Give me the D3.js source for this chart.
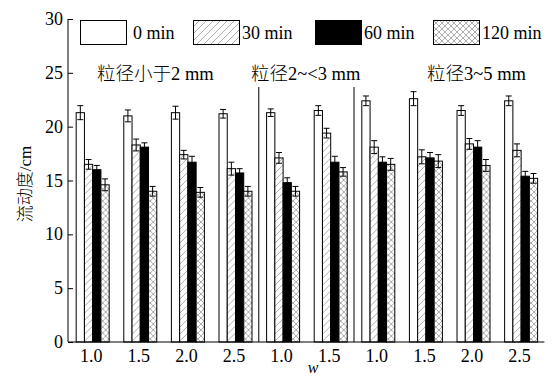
<!DOCTYPE html>
<html>
<head>
<meta charset="utf-8">
<script src="https://cdn.jsdelivr.net/npm/d3@7"></script>
<style>
  body { margin: 0; background: #fff; }
  text { font-family: "Liberation Serif", "Noto Sans CJK SC", serif; fill: #000; }
</style>
</head>
<body>
<svg id="chart" width="556" height="378"></svg>
<script>
// w values for each group (x tick labels)
var wLabels = ["1.0", "1.5", "2.0", "2.5", "1.0", "1.5", "1.0", "1.5", "2.0", "2.5"]
var seriesNames = ["0 min", "30 min", "60 min", "120 min"]

// flow values (cm) per series, one per group
var v0   = [21.3, 21.0, 21.3, 21.2, 21.3, 21.5, 22.4, 22.6, 21.5, 22.4]
var v30  = [16.5, 18.3, 17.4, 16.1, 17.1, 19.4, 18.1, 17.2, 18.4, 17.8]
var v60  = [16.0, 18.1, 16.7, 15.7, 14.8, 16.7, 16.7, 17.1, 18.1, 15.4]
var v120 = [14.6, 14.0, 13.9, 14.0, 14.0, 15.8, 16.5, 16.8, 16.4, 15.2]

// error (+/-)
var e0   = [0.65, 0.55, 0.6, 0.4, 0.35, 0.45, 0.45, 0.65, 0.45, 0.45]
var e30  = [0.45, 0.55, 0.4, 0.6, 0.5, 0.45, 0.6, 0.65, 0.5, 0.6]
var e60  = [0.4, 0.4, 0.55, 0.4, 0.45, 0.55, 0.5, 0.5, 0.6, 0.45]
var e120 = [0.55, 0.45, 0.45, 0.45, 0.45, 0.4, 0.55, 0.6, 0.55, 0.45]

var yTicks = [0, 5, 10, 15, 20, 25, 30]
var sections = ["粒径小于2 mm", "粒径2~<3 mm", "粒径3~5 mm"]

var values = [v0, v30, v60, v120]
var errors = [e0, e30, e60, e120]
var fills = ["#fff", "url(#hatch)", "#000", "url(#cross)"]

var svg = d3.select("#chart")

// patterns
var defs = svg.append("defs")
var hatch = defs.append("pattern")
  .attr("id", "hatch")
  .attr("patternUnits", "userSpaceOnUse")
  .attr("width", 7).attr("height", 7)
hatch.append("rect").attr("width", 7).attr("height", 7).attr("fill", "#fff")
hatch.append("path")
  .attr("d", "M-1,8 L8,-1 M-1,1 L1,-1 M6,8 L8,6")
  .attr("stroke", "#8a8a8a").attr("stroke-width", 0.7)

var cross = defs.append("pattern")
  .attr("id", "cross")
  .attr("patternUnits", "userSpaceOnUse")
  .attr("width", 6).attr("height", 6)
cross.append("rect").attr("width", 6).attr("height", 6).attr("fill", "#fff")
cross.append("path")
  .attr("d", "M0,0 L6,6 M6,0 L0,6")
  .attr("stroke", "#8a8a8a").attr("stroke-width", 0.7)

// scales
var x = d3.scaleBand()
  .domain(d3.range(wLabels.length))
  .range([68.4, 544.4])
  .paddingInner(0.307)
  .paddingOuter(0.153)

var xs = d3.scaleBand()
  .domain(d3.range(seriesNames.length))
  .range([0, x.bandwidth()])

var y = d3.scaleLinear()
  .domain([0, 30])
  .range([342, 19])

var axisX = 68

// y axis (ticks pointing inward)
var yAxis = svg.append("g")
  .attr("transform", "translate(" + axisX + ",0)")
  .call(d3.axisRight(y).tickValues(yTicks).tickSize(5).tickFormat(""))
yAxis.select(".domain").attr("d", "M0," + y(30) + "V" + y(0)).attr("stroke", "#000")
yAxis.selectAll(".tick line").attr("stroke", "#000")

svg.append("g").selectAll("text")
  .data(yTicks)
  .enter()
  .append("text")
  .attr("x", axisX - 5)
  .attr("y", d => y(d) + 6)
  .attr("text-anchor", "end")
  .style("font-size", "18px")
  .text(d => d)

// bars
var groups = svg.append("g").selectAll("g")
  .data(wLabels)
  .enter()
  .append("g")
  .attr("transform", (d, i) => "translate(" + x(i) + ",0)")

groups.each(function(d, gi) {
  var g = d3.select(this)
  seriesNames.forEach(function(s, si) {
    var val = values[si][gi]
    var err = errors[si][gi]
    var bx = xs(si)
    var bw = xs.bandwidth()
    g.append("rect")
      .attr("x", bx + 0.5)
      .attr("y", y(val))
      .attr("width", bw)
      .attr("height", y(0) - y(val))
      .attr("fill", fills[si])
      .attr("stroke", "#000")
      .attr("stroke-width", 1)

    var cx = bx + 0.5 + bw / 2
    var cw = 3
    g.append("path")
      .attr("d", "M" + cx + "," + y(val + err) + "V" + y(val - err)
        + "M" + (cx - cw) + "," + y(val + err) + "H" + (cx + cw)
        + "M" + (cx - cw) + "," + y(val - err) + "H" + (cx + cw))
      .attr("stroke", "#000")
      .attr("stroke-width", 1)
      .attr("fill", "none")
  })
})

// x axis line
svg.append("line")
  .attr("x1", axisX).attr("x2", x.range()[1])
  .attr("y1", y(0)).attr("y2", y(0))
  .attr("stroke", "#000").attr("stroke-width", 1.2)

svg.append("g").selectAll("text")
  .data(wLabels)
  .enter()
  .append("text")
  .attr("x", (d, i) => x(i) + x.bandwidth() / 2 - 1)
  .attr("y", 362)
  .attr("text-anchor", "middle")
  .style("font-size", "18px")
  .text(d => d)

svg.append("text")
  .attr("x", 313)
  .attr("y", 373)
  .attr("text-anchor", "middle")
  .style("font-size", "16px")
  .style("font-style", "italic")
  .text("w")

// y title
svg.append("text")
  .attr("transform", "translate(31,184)rotate(-90)")
  .attr("text-anchor", "middle")
  .style("font-size", "17px")
  .style("font-weight", "300")
  .text("流动度/cm")

// section separators (between groups 4|5 and 6|7)
var sepAfter = [3, 5]
svg.append("g").selectAll("line")
  .data(sepAfter)
  .enter()
  .append("line")
  .attr("x1", d => (x(d) + x.bandwidth() + x(d + 1)) / 2)
  .attr("x2", d => (x(d) + x.bandwidth() + x(d + 1)) / 2)
  .attr("y1", 87)
  .attr("y2", y(0))
  .attr("stroke", "#000").attr("stroke-width", 1)

// section titles
var secX = [97, 251, 427]
svg.append("g").selectAll("text")
  .data(sections)
  .enter()
  .append("text")
  .attr("x", (d, i) => secX[i])
  .attr("y", 80)
  .style("font-size", "18.5px")
  .style("font-weight", "300")
  .text(d => d)

// legend
var legX = [80, 193, 315, 433]
var leg = svg.append("g").selectAll("g")
  .data(seriesNames)
  .enter()
  .append("g")
  .attr("transform", (d, i) => "translate(" + legX[i] + ",20)")
leg.append("rect")
  .attr("x", 0.5).attr("y", 0.5)
  .attr("width", 46).attr("height", 24)
  .attr("fill", (d, i) => fills[i])
  .attr("stroke", "#000")
leg.append("text")
  .attr("x", (d, i) => i === 0 ? 53 : 49)
  .attr("y", 19)
  .style("font-size", "18px")
  .text(d => d)
</script>
</body>
</html>
